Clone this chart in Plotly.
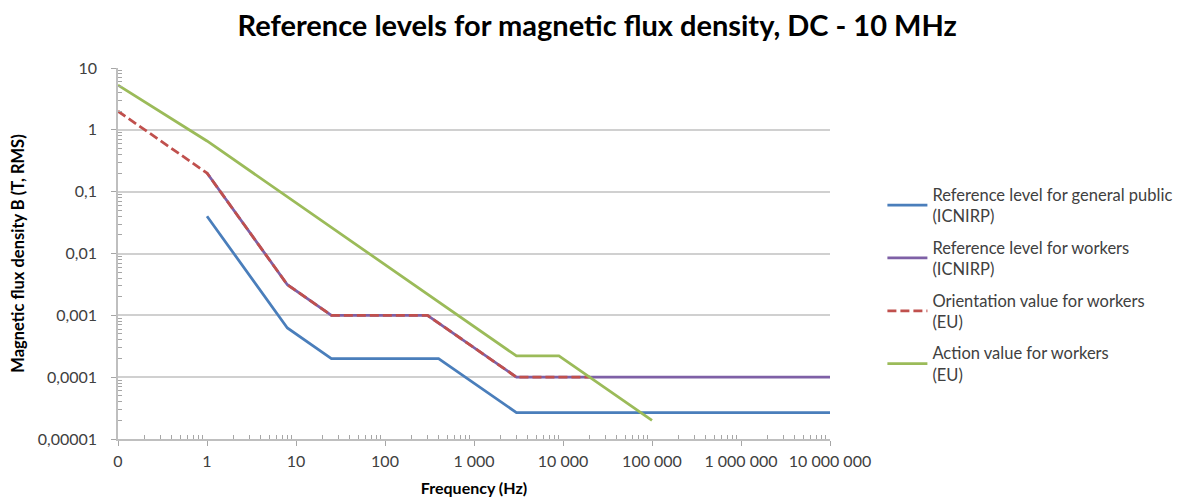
import plotly.graph_objects as go

# ---- data ----
public_f = [1, 8, 25, 400, 3000, 10000000]
public_b = [0.04, 0.000625, 0.0002, 0.0002, 0.0000267, 0.0000267]

workers_f = [1, 8, 25, 300, 3000, 10000000]
workers_b = [0.2, 0.003125, 0.001, 0.001, 0.0001, 0.0001]

orient_f = [0.1, 1, 8, 25, 300, 3000, 20000]
orient_b = [2.0, 0.2, 0.003125, 0.001, 0.001, 0.0001, 0.0001]

action_f = [0.1, 1, 3000, 9000, 100000]
action_b = [5.3, 0.66, 0.00022, 0.00022, 0.00002]

x_tickvals = [0.1, 1, 10, 100, 1000, 10000, 100000, 1000000, 10000000]
x_ticktext = ["0", "1", "10", "100", "1 000", "10 000", "100 000", "1 000 000", "10 000 000"]
y_tickvals = [10, 1, 0.1, 0.01, 0.001, 0.0001, 0.00001]
y_ticktext = ["10", "1", "0,1", "0,01", "0,001", "0,0001", "0,00001"]

names = [
    "Reference level for general public<br>(ICNIRP)",
    "Reference level for workers<br>(ICNIRP)",
    "Orientation value for workers<br>(EU)",
    "Action value for workers<br>(EU)",
]
colors = ["#4A7EBB", "#7E60A6", "#C0504D", "#9BBB59"]

FONT = "Lato"

fig = go.Figure()
series = [(public_f, public_b, "solid"), (workers_f, workers_b, "solid"),
          (orient_f, orient_b, "9px,4px"), (action_f, action_b, "solid")]
for i, (xs, ys, dash) in enumerate(series):
    fig.add_trace(go.Scatter(x=xs, y=ys, mode="lines", name=names[i],
                             legendgroup="g%d" % i,
                             line=dict(color=colors[i], width=2.75, dash=dash)))

minor_x = [m * 10 ** e for e in range(-1, 7) for m in range(2, 10)]
minor_y = [m * 10 ** e for e in range(-5, 1) for m in range(2, 10)]

# the page body adds an 8 px margin; the figure is sized to compensate
fig.update_layout(
    width=1176, height=490,
    paper_bgcolor="white", plot_bgcolor="white",
    margin=dict(l=110, r=354, t=60, b=59, autoexpand=False),
    font=dict(family=FONT, color="#404040", size=14),
    title=dict(text="<b>Reference levels for magnetic flux density, DC - 10 MHz</b>",
               x=0.501, xanchor="center", y=0.963, yanchor="middle",
               font=dict(family=FONT, size=29, color="#000000")),
    showlegend=True,
    legend=dict(x=1.0736, xanchor="left", y=0.706, yanchor="top",
                font=dict(family=FONT, size=16.5, color="#404040"),
                tracegroupgap=7, itemwidth=40, bgcolor="rgba(0,0,0,0)"),
)

fig.update_xaxes(
    type="log", range=[-1, 7], automargin=False,
    tickmode="array", tickvals=x_tickvals, ticktext=x_ticktext,
    ticks="outside", ticklen=5, tickcolor="#a6a6a6", ticklabelstandoff=2,
    showline=True, linecolor="#bfbfbf", linewidth=1.5,
    showgrid=False, zeroline=False,
    minor=dict(tickmode="array", tickvals=minor_x, ticks="inside", ticklen=4,
               tickcolor="#a6a6a6", showgrid=False),
    tickfont=dict(family=FONT, size=16, color="#404040"),
    title=dict(text="<b>Frequency (Hz)</b>", standoff=14,
               font=dict(family=FONT, size=16, color="#000000")),
)
fig.update_yaxes(
    type="log", range=[-5, 1], automargin=False,
    tickmode="array", tickvals=y_tickvals, ticktext=y_ticktext,
    ticks="outside", ticklen=5, tickcolor="#a6a6a6", ticklabelstandoff=11,
    showline=True, linecolor="#bfbfbf", linewidth=1.5,
    showgrid=True, gridcolor="#d0d0d0", gridwidth=1.5, zeroline=False,
    minor=dict(tickmode="array", tickvals=minor_y, ticks="inside", ticklen=4,
               tickcolor="#a6a6a6", showgrid=False),
    tickfont=dict(family=FONT, size=16, color="#404040"),
    title=dict(text="<b>Magnetic flux density B (T, RMS)</b>", standoff=12,
               font=dict(family=FONT, size=16.5, color="#000000")),
)

fig.write_html("out.html")
